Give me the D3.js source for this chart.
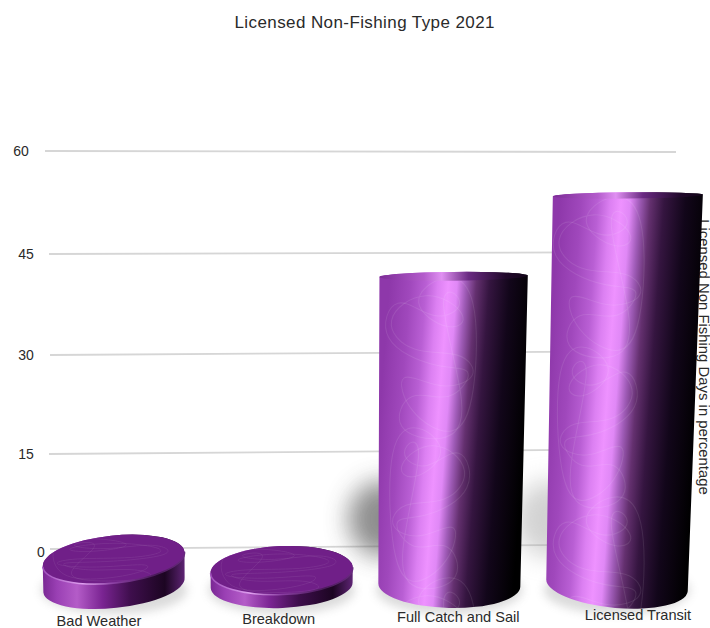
<!DOCTYPE html>
<html>
<head>
<meta charset="utf-8">
<script src="https://cdn.jsdelivr.net/npm/d3@7"></script>
<style>
  html, body { margin: 0; padding: 0; background: #fff; overflow: hidden; }
  text { font-family: "Liberation Sans", Arial, sans-serif; fill: #2a2a2a; }
</style>
</head>
<body>
<svg id="chart" width="710" height="628"></svg>
<script>
// Chart data
const categories = ["Bad Weather", "Breakdown", "Full Catch and Sail", "Licensed Transit"];
const values = [3.5, 2, 42, 53];
const axisTicks = [0, 15, 30, 45, 60];
const chartTitle = "Licensed Non-Fishing Type 2021";
const axisTitle = "Licensed Non Fishing Days in percentage";

// Hand-drawn scribble loops used as the surface texture, in unit coordinates
const scribbleA = [[.05,.12],[.35,.02],[.72,.2],[.3,.38],[.1,.28],[.52,.1],[.95,.3],[.65,.5],[.2,.46],[.02,.62],[.4,.7],[.8,.55],[.7,.82],[.25,.98],[.08,.75]];
const scribbleB = [[.5,.05],[.1,.2],[.45,.33],[.8,.12],[.98,.42],[.4,.58],[.05,.55],[.3,.78],[.68,.66],[.85,.92],[.35,.99],[.1,.85]];

const svg = d3.select("#chart");
const defs = svg.append("defs");

defs.append("filter").attr("id", "softShadow")
  .attr("x", "-80%").attr("y", "-80%").attr("width", "260%").attr("height", "260%")
  .append("feGaussianBlur").attr("stdDeviation", 12);
defs.append("filter").attr("id", "groundShadow")
  .attr("x", "-30%").attr("y", "-80%").attr("width", "160%").attr("height", "260%")
  .append("feGaussianBlur").attr("stdDeviation", 5);

// The value axis is slightly compressed toward the floor and tilted left to right
const gridLeft = d3.scaleLinear().domain(axisTicks).range([549, 454, 355, 254, 151]);
const gridRight = d3.scaleLinear().domain(axisTicks).range([544, 449, 351, 252, 152]);
const gridStart = d3.scaleLinear().domain(axisTicks).range([50, 49, 50, 49, 45]);
const tickCentre = d3.scaleLinear().domain(axisTicks).range([41, 26, 26, 26, 21]);
const GRID_X1 = 676;

// Cylinders stand on a floor in front of the axis plane
const baseX = d3.scalePoint().domain(categories).range([114, 617]);
const floorY = 585;
const heightScale = d3.scaleLinear().domain([0, 60]).range([0, 441]);
const lean = 8.3e-5;                       // horizontal convergence per px of height
const rimY = d3.scaleLinear().domain([0, 40, 300, 400]).range([25, 23, 4.5, 3]).clamp(true);
const tiltScale = d3.scaleLinear().domain([114, 617]).range([-6, 5]);
const tiltFade = d3.scaleLinear().domain([30, 200]).range([1, 0]).clamp(true);
const BASE_RX = 71, BASE_RY = 23;

const labelX = d3.scalePoint().domain(categories).range([99, 638]);
const labelY = d3.scalePoint().domain(categories).range([626, 619.5]);

// Title
svg.append("text").attr("x", 364.5).attr("y", 28).attr("text-anchor", "middle")
  .attr("font-size", 17).attr("textLength", 260).attr("lengthAdjust", "spacing").text(chartTitle);

// Gridlines
svg.append("g").selectAll("line").data(axisTicks).join("line")
  .attr("x1", d => gridStart(d)).attr("x2", GRID_X1)
  .attr("y1", d => gridLeft(d)).attr("y2", d => gridRight(d))
  .attr("stroke", "#d6d6d6").attr("stroke-width", 1.8);

// Value axis labels
const axisG = svg.append("g")
  .call(d3.axisLeft(gridLeft).tickValues(axisTicks).tickSize(0).tickPadding(0));
axisG.select(".domain").remove();
axisG.selectAll("text").attr("font-size", 14).attr("fill", "#2a2a2a")
  .style("font-family", '"Liberation Sans", Arial, sans-serif')
  .attr("text-anchor", "middle")
  .attr("x", d => tickCentre(d))
  .attr("dy", d => d === 0 ? "0.55em" : "0.32em");

// Rotated axis title on the right edge
svg.append("text")
  .attr("transform", "translate(698.5,357) rotate(90)")
  .attr("text-anchor", "middle").attr("font-size", 14.9).text(axisTitle);

// Build geometry for each cylinder from its value
const bars = categories.map((name, i) => {
  const h = heightScale(values[i]);
  const bx = baseX(name);
  const tx = bx + (bx - baseX(categories[1])) * lean * h;
  const rxTop = BASE_RX + 0.0103 * h;
  const tilt = tiltScale(bx);
  return {
    name, i, h, bx, tx, rxTop,
    topY: floorY - h,
    ryTop: rimY(h),
    tiltBase: tilt,
    tiltTop: tilt * tiltFade(h) - 0.6 * (1 - tiltFade(h))
  };
});

const rotPt = (cx, cy, rx, deg, side) => {
  const a = deg * Math.PI / 180;
  return [cx + side * rx * Math.cos(a), cy + side * rx * Math.sin(a)];
};

// Outline of the side wall: down the left edge, along the front of the base, up the right edge
function sidePath(b) {
  const tl = rotPt(b.tx, b.topY, b.rxTop, b.tiltTop, -1);
  const tr = rotPt(b.tx, b.topY, b.rxTop, b.tiltTop, 1);
  const bl = rotPt(b.bx, floorY, BASE_RX, b.tiltBase, -1);
  const br = rotPt(b.bx, floorY, BASE_RX, b.tiltBase, 1);
  return `M${tl}L${bl}A${BASE_RX},${BASE_RY} ${b.tiltBase} 0 0 ${br}L${tr}` +
         `A${b.rxTop},${b.ryTop} ${b.tiltTop} 0 0 ${tl}Z`;
}

// Side wall lighting, angled so the highlight drifts toward the left lower down
const tallStops = [[0,"#8e38aa"],[.14,"#a048bc"],[.25,"#b95fd4"],[.33,"#dc80f2"],[.4,"#ee92ff"],[.46,"#e088f6"],[.52,"#a05cb8"],[.59,"#64306f"],[.68,"#351540"],[.82,"#12061a"],[1,"#000"]];
const diskStops = [[0,"#7a2894"],[.1,"#9a40b4"],[.24,"#b45cc8"],[.42,"#7a2492"],[.62,"#3e0e4c"],[.86,"#1c0522"],[1,"#5e2474"]];

bars.forEach(b => {
  const tall = b.h > 100;
  const left = b.bx - BASE_RX, right = b.bx + BASE_RX;
  const midY = (b.topY + floorY) / 2;
  const g = defs.append("linearGradient").attr("id", `wall${b.i}`)
    .attr("gradientUnits", "userSpaceOnUse")
    .attr("x1", left).attr("x2", right + (b.tx - b.bx))
    .attr("y1", midY).attr("y2", midY + (tall ? 11 : 0));
  (tall ? tallStops : diskStops).forEach(([o, c]) =>
    g.append("stop").attr("offset", o).attr("stop-color", c));

  const t = defs.append("linearGradient").attr("id", `cap${b.i}`);
  [[0,"#7c2c96"],[.3,"#b45ccc"],[.42,"#e090f2"],[.6,"#6a2a82"],[.85,"#20082a"],[1,"#120418"]]
    .forEach(([o, c]) => t.append("stop").attr("offset", o).attr("stop-color", c));

  defs.append("clipPath").attr("id", `clipWall${b.i}`)
    .append("path").attr("d", sidePath(b));
  defs.append("clipPath").attr("id", `clipCap${b.i}`)
    .append("ellipse").attr("rx", b.rxTop).attr("ry", b.ryTop)
    .attr("transform", `translate(${b.tx},${b.topY}) rotate(${b.tiltTop})`);
});

const scribble = d3.line().curve(d3.curveBasisClosed);

// Soft shadows: cast on the wall behind tall cylinders and on the floor under all of them
const shadowG = svg.append("g");
shadowG.selectAll("ellipse.wall").data(bars.filter(d => d.h > 100)).join("ellipse")
  .attr("class", "wall")
  .attr("cx", d => d.bx - BASE_RX + 4)
  .attr("cy", floorY - 66)
  .attr("rx", 34).attr("ry", 38)
  .attr("fill", d => d.i === 2 ? "#4a4a4a" : "#a4a4a4")
  .attr("opacity", d => d.i === 2 ? 0.62 : 0.5)
  .attr("filter", "url(#softShadow)");
shadowG.selectAll("ellipse.floor").data(bars).join("ellipse")
  .attr("class", "floor")
  .attr("cx", d => d.bx).attr("cy", floorY + 5)
  .attr("rx", BASE_RX + 2).attr("ry", BASE_RY + 1)
  .attr("fill", "#888").attr("opacity", 0.3)
  .attr("filter", "url(#groundShadow)");

const barG = svg.append("g").selectAll("g").data(bars).join("g");

// Side wall
barG.append("path").attr("d", sidePath).attr("fill", d => `url(#wall${d.i})`);

// Faint scribbles tiled down the side wall of each tall cylinder
barG.filter(d => d.h > 100).append("g")
  .attr("clip-path", d => `url(#clipWall${d.i})`)
  .each(function (d) {
    const g = d3.select(this);
    const step = 150;
    d3.range(Math.ceil((d.h + BASE_RY) / step)).forEach(k => {
      const sx = d3.scaleLinear().range(k % 2
        ? [d.bx - BASE_RX + 4, d.bx + BASE_RX * 0.45]
        : [d.bx + BASE_RX * 0.5, d.bx - BASE_RX - 6]);
      const sy = d3.scaleLinear().range([d.topY + k * step - 10, d.topY + k * step + 170]);
      [scribbleA, scribbleB].forEach(loop => {
        g.append("path")
          .attr("d", scribble(loop.map(([x, y]) => [sx(x), sy(y)])))
          .attr("fill", "none").attr("stroke", "#fff")
          .attr("stroke-opacity", 0.09).attr("stroke-width", 1.1);
      });
    });
  });

// Top faces
barG.append("ellipse")
  .attr("rx", d => d.rxTop).attr("ry", d => d.ryTop)
  .attr("transform", d => `translate(${d.tx},${d.topY}) rotate(${d.tiltTop})`)
  .attr("fill", d => d.h > 100 ? `url(#cap${d.i})` : "#701f88");

// Scribbles on the disk tops
barG.filter(d => d.h <= 100).append("g")
  .attr("clip-path", d => `url(#clipCap${d.i})`)
  .each(function (d) {
    const sx = d3.scaleLinear().range([d.tx - d.rxTop, d.tx + d.rxTop]);
    const sy = d3.scaleLinear().range([d.topY - d.ryTop, d.topY + d.ryTop]);
    const g = d3.select(this);
    [scribbleA, scribbleB].forEach(loop => {
      g.append("path")
        .attr("d", scribble(loop.map(([x, y]) => [sx(x), sy(y)])))
        .attr("fill", "none").attr("stroke", "#fff")
        .attr("stroke-opacity", 0.07).attr("stroke-width", 1);
    });
  });

// Lit bevel along the front rim of each disk
defs.append("linearGradient").attr("id", "rimLight").call(g => {
  [[0,"#a050bc"],[.28,"#e0a0f0"],[.5,"#8a3fa2"],[.8,"#4a1a5a"],[1,"#6a2a80"]]
    .forEach(([o, c]) => g.append("stop").attr("offset", o).attr("stop-color", c));
});
barG.filter(d => d.h <= 100).append("path")
  .attr("d", d => {
    const l = rotPt(d.tx, d.topY, d.rxTop, d.tiltTop, -1);
    const r = rotPt(d.tx, d.topY, d.rxTop, d.tiltTop, 1);
    return `M${l}A${d.rxTop},${d.ryTop} ${d.tiltTop} 0 0 ${r}`;
  })
  .attr("fill", "none").attr("stroke", "url(#rimLight)").attr("stroke-width", 1.6);

// Category labels sit on a slightly rising baseline
svg.append("g").selectAll("text").data(categories).join("text")
  .attr("x", d => labelX(d)).attr("y", d => labelY(d))
  .attr("text-anchor", "middle").attr("font-size", 14.6).text(d => d);
</script>
</body>
</html>
